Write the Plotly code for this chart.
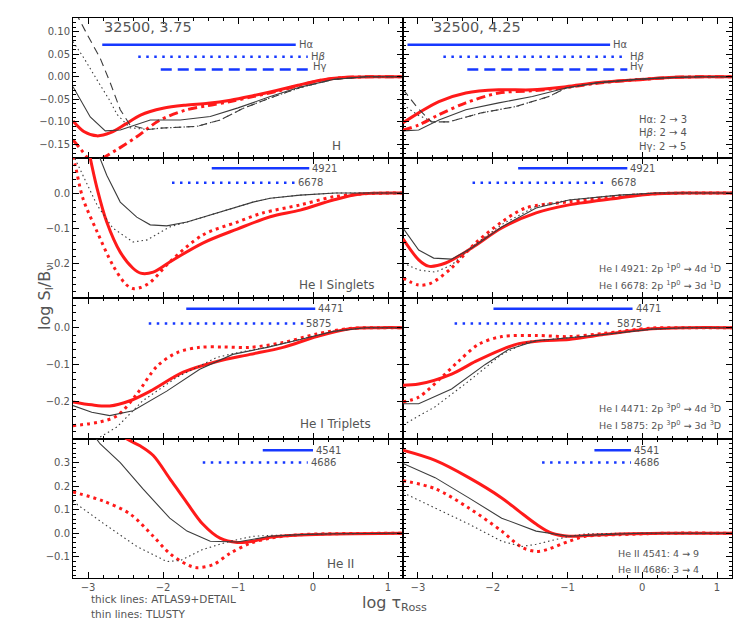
import plotly.graph_objects as go
from plotly.subplots import make_subplots

# ---------------- DATA ----------------
# Row 1: H, log g = 3.75 (left) and 4.25 (right)
H375_HA_ATLAS_X = [-3.2, -3.05, -2.88, -2.7, -2.5, -2.3, -2.0, -1.7, -1.4, -1.1, -0.8, -0.5, -0.2, 0.1, 0.4, 0.8, 1.2]
H375_HA_ATLAS_Y = [-0.098, -0.122, -0.131, -0.124, -0.105, -0.085, -0.070, -0.063, -0.059, -0.052, -0.042, -0.031, -0.019, -0.008, -0.002, 0.0, 0.0]
H375_HBG_ATLAS_X = [-3.2, -3.1, -3.0, -2.9, -2.8, -2.6, -2.35, -2.05, -1.7, -1.4, -1.1, -0.8, -0.5, -0.2, 0.1, 0.4, 0.8, 1.2]
H375_HBG_ATLAS_Y = [-0.14, -0.16, -0.18, -0.19, -0.18, -0.16, -0.133, -0.097, -0.074, -0.064, -0.055, -0.044, -0.033, -0.02, -0.008, -0.002, 0.0, 0.0]
H375_HA_TL_X = [-3.2, -2.97, -2.77, -2.57, -2.17, -1.77, -1.37, -1.0, -0.57, -0.17, 0.27, 0.7, 1.2]
H375_HA_TL_Y = [-0.022, -0.089, -0.12, -0.118, -0.096, -0.096, -0.088, -0.069, -0.044, -0.023, -0.006, 0.0, 0.0]
H375_HB_TL_X = [-3.2, -3.05, -2.88, -2.72, -2.61, -2.44, -2.2, -2.04, -1.55, -1.24, -0.93, -0.57, -0.17, 0.27, 0.7, 1.2]
H375_HB_TL_Y = [0.078, 0.04, -0.007, -0.05, -0.084, -0.113, -0.117, -0.114, -0.11, -0.096, -0.07, -0.047, -0.024, -0.006, 0.0, 0.0]
H375_HG_TL_X = [-3.2, -3.13, -3.0, -2.84, -2.7, -2.57, -2.44, -2.2, -2.04, -1.55, -1.24, -0.93, -0.57, -0.17, 0.27, 0.7, 1.2]
H375_HG_TL_Y = [0.17, 0.131, 0.09, 0.042, -0.015, -0.073, -0.107, -0.117, -0.114, -0.11, -0.096, -0.07, -0.047, -0.024, -0.006, 0.0, 0.0]

H425_HA_ATLAS_X = [-3.2, -2.99, -2.72, -2.36, -1.92, -1.47, -1.02, -0.58, -0.08, 0.36, 0.8, 1.2]
H425_HA_ATLAS_Y = [-0.102, -0.08, -0.055, -0.036, -0.029, -0.029, -0.022, -0.013, -0.007, -0.002, 0.0, 0.0]
H425_HBG_ATLAS_X = [-3.2, -2.99, -2.72, -2.36, -1.92, -1.47, -1.02, -0.58, -0.08, 0.36, 0.8, 1.2]
H425_HBG_ATLAS_Y = [-0.118, -0.107, -0.084, -0.058, -0.036, -0.031, -0.024, -0.014, -0.007, -0.002, 0.0, 0.0]
H425_HA_TL_X = [-3.2, -2.99, -2.72, -2.36, -1.92, -1.47, -1.02, -0.58, -0.08, 0.36, 0.8, 1.2]
H425_HA_TL_Y = [-0.12, -0.118, -0.096, -0.073, -0.058, -0.044, -0.025, -0.013, -0.006, -0.002, 0.0, 0.0]
H425_HB_TL_X = [-3.2, -3.0, -2.8, -2.59, -2.15, -1.69, -1.25, -1.02, -0.58, -0.08, 0.36, 0.8, 1.2]
H425_HB_TL_Y = [-0.062, -0.085, -0.1, -0.1, -0.08, -0.066, -0.044, -0.025, -0.013, -0.006, -0.002, 0.0, 0.0]
H425_HG_TL_X = [-3.2, -3.0, -2.82, -2.59, -2.15, -1.69, -1.25, -1.02, -0.58, -0.08, 0.36, 0.8, 1.2]
H425_HG_TL_Y = [-0.028, -0.07, -0.1, -0.1, -0.08, -0.066, -0.044, -0.025, -0.013, -0.006, -0.002, 0.0, 0.0]

# Row 2: He I singlets
S375_4921_ATLAS_X = [-3.0, -2.88, -2.75, -2.57, -2.4, -2.3, -2.13, -1.91, -1.47, -1.01, -0.57, -0.17, 0.27, 0.63, 1.2]
S375_4921_ATLAS_Y = [0.13, 0.014, -0.083, -0.169, -0.215, -0.229, -0.226, -0.197, -0.143, -0.103, -0.068, -0.049, -0.02, -0.003, 0.0]
S375_6678_ATLAS_X = [-3.2, -3.17, -3.07, -2.88, -2.67, -2.5, -2.4, -2.3, -2.17, -1.91, -1.47, -1.01, -0.67, -0.17, 0.27, 0.7, 1.2]
S375_6678_ATLAS_Y = [0.105, 0.08, -0.014, -0.11, -0.206, -0.26, -0.273, -0.27, -0.255, -0.197, -0.12, -0.083, -0.057, -0.034, -0.011, -0.002, 0.0]
S375_4921_TL_X = [-2.86, -2.75, -2.57, -2.35, -2.17, -1.95, -1.68, -1.24, -0.8, -0.57, -0.17, 0.3, 1.2]
S375_4921_TL_Y = [0.11, 0.051, -0.026, -0.069, -0.091, -0.094, -0.083, -0.054, -0.026, -0.015, -0.006, 0.0, 0.0]
S375_6678_TL_X = [-3.2, -3.07, -2.88, -2.67, -2.4, -2.21, -1.91, -1.68, -1.24, -0.8, -0.57, -0.17, 0.3, 1.2]
S375_6678_TL_Y = [0.11, 0.051, -0.034, -0.1, -0.14, -0.134, -0.097, -0.083, -0.054, -0.026, -0.015, -0.006, 0.0, 0.0]

S425_4921_ATLAS_X = [-3.2, -2.99, -2.86, -2.63, -2.28, -1.88, -1.42, -0.98, -0.31, 0.13, 0.6, 1.2]
S425_4921_ATLAS_Y = [-0.131, -0.191, -0.209, -0.2, -0.157, -0.1, -0.057, -0.034, -0.014, -0.003, 0.0, 0.0]
S425_6678_ATLAS_X = [-3.2, -2.99, -2.83, -2.55, -2.23, -1.88, -1.56, -0.98, -0.31, 0.2, 0.6, 1.2]
S425_6678_ATLAS_Y = [-0.243, -0.263, -0.258, -0.214, -0.143, -0.083, -0.043, -0.025, -0.009, -0.002, 0.0, 0.0]
S425_4921_TL_X = [-3.2, -2.99, -2.79, -2.55, -2.28, -1.88, -1.42, -0.98, -0.31, 0.2, 1.2]
S425_4921_TL_Y = [-0.1, -0.163, -0.186, -0.189, -0.157, -0.097, -0.043, -0.02, -0.006, 0.0, 0.0]
S425_6678_TL_X = [-3.2, -2.99, -2.77, -2.55, -2.28, -1.88, -1.42, -0.98, -0.31, 0.2, 1.2]
S425_6678_TL_Y = [-0.2, -0.22, -0.226, -0.206, -0.154, -0.09, -0.038, -0.02, -0.006, 0.0, 0.0]

# Row 3: He I triplets
T375_4471_ATLAS_X = [-3.2, -2.95, -2.71, -2.44, -2.17, -1.73, -1.28, -0.84, -0.4, 0.05, 0.49, 0.9, 1.2]
T375_4471_ATLAS_Y = [-0.2, -0.208, -0.211, -0.197, -0.171, -0.12, -0.091, -0.072, -0.053, -0.024, -0.003, 0.0, 0.0]
T375_5875_ATLAS_X = [-3.2, -2.84, -2.61, -2.35, -2.08, -1.81, -1.51, -1.2, -0.84, -0.4, 0.05, 0.49, 0.9, 1.2]
T375_5875_ATLAS_Y = [-0.264, -0.254, -0.237, -0.179, -0.104, -0.067, -0.053, -0.052, -0.053, -0.04, -0.017, -0.002, 0.0, 0.0]
T375_4471_TL_X = [-3.2, -2.95, -2.71, -2.4, -1.95, -1.51, -1.07, -0.61, -0.17, 0.27, 0.7, 1.2]
T375_4471_TL_Y = [-0.21, -0.228, -0.237, -0.224, -0.171, -0.112, -0.072, -0.053, -0.032, -0.01, 0.0, 0.0]
T375_5875_TL_X = [-3.0, -2.88, -2.61, -2.27, -1.81, -1.28, -1.07, -0.61, -0.17, 0.27, 0.7, 1.2]
T375_5875_TL_Y = [-0.33, -0.3, -0.267, -0.197, -0.133, -0.08, -0.07, -0.052, -0.031, -0.01, 0.0, 0.0]

T425_4471_ATLAS_X = [-3.2, -2.99, -2.55, -2.23, -1.88, -1.65, -1.34, -0.98, -0.54, 0.13, 0.6, 1.2]
T425_4471_ATLAS_Y = [-0.155, -0.152, -0.125, -0.091, -0.059, -0.043, -0.035, -0.032, -0.019, -0.003, 0.0, 0.0]
T425_5875_ATLAS_X = [-3.2, -2.99, -2.68, -2.46, -2.19, -1.88, -1.42, -0.98, -0.54, 0.13, 0.6, 1.2]
T425_5875_ATLAS_Y = [-0.2, -0.187, -0.133, -0.091, -0.045, -0.024, -0.021, -0.024, -0.016, -0.001, 0.0, 0.0]
T425_4471_TL_X = [-3.2, -2.99, -2.55, -2.1, -1.79, -1.42, -0.98, -0.54, 0.13, 0.6, 1.2]
T425_4471_TL_Y = [-0.205, -0.205, -0.165, -0.099, -0.059, -0.035, -0.027, -0.019, -0.004, 0.0, 0.0]
T425_5875_TL_X = [-3.2, -2.77, -2.32, -1.88, -1.52, -1.2, -0.98, -0.54, 0.13, 0.6, 1.2]
T425_5875_TL_Y = [-0.262, -0.213, -0.144, -0.072, -0.037, -0.03, -0.027, -0.019, -0.004, 0.0, 0.0]

# Row 4: He II
II375_4541_ATLAS_X = [-2.6, -2.48, -2.3, -2.13, -1.91, -1.68, -1.47, -1.24, -1.01, -0.8, -0.57, -0.17, 0.3, 1.2]
II375_4541_ATLAS_Y = [0.43, 0.40, 0.37, 0.33, 0.232, 0.129, 0.039, -0.021, -0.039, -0.034, -0.017, -0.008, -0.003, 0.0]
II375_4541_TL_X = [-3.0, -2.84, -2.57, -2.27, -1.91, -1.68, -1.37, -1.01, -0.57, -0.17, 0.3, 1.2]
II375_4541_TL_Y = [0.45, 0.38, 0.3, 0.189, 0.064, 0.009, -0.034, -0.037, -0.013, -0.006, -0.002, 0.0]
II375_4686_ATLAS_X = [-3.2, -2.8, -2.44, -2.13, -1.91, -1.68, -1.55, -1.33, -1.11, -0.84, -0.57, -0.17, 0.3, 1.2]
II375_4686_ATLAS_Y = [0.175, 0.137, 0.082, -0.013, -0.086, -0.133, -0.146, -0.133, -0.086, -0.043, -0.021, -0.006, -0.002, 0.0]
II375_4686_TL_X = [-3.2, -2.8, -2.35, -1.95, -1.77, -1.47, -1.11, -0.8, -0.57, -0.17, 0.3, 1.2]
II375_4686_TL_Y = [0.135, 0.043, -0.056, -0.12, -0.116, -0.069, -0.034, -0.013, -0.009, -0.005, -0.002, 0.0]

II425_4541_ATLAS_X = [-3.2, -2.77, -2.32, -1.88, -1.65, -1.42, -1.21, -0.98, -0.76, -0.31, 0.3, 1.2]
II425_4541_ATLAS_Y = [0.352, 0.309, 0.236, 0.15, 0.094, 0.039, 0.0, -0.013, -0.01, -0.003, 0.0, 0.0]
II425_4541_TL_X = [-3.2, -2.77, -2.32, -1.88, -1.42, -0.98, -0.54, 0.0, 1.2]
II425_4541_TL_Y = [0.296, 0.236, 0.15, 0.064, 0.009, -0.013, -0.006, 0.0, 0.0]
II425_4686_ATLAS_X = [-3.2, -2.77, -2.32, -1.88, -1.61, -1.42, -1.27, -0.98, -0.76, -0.31, 0.3, 1.2]
II425_4686_ATLAS_Y = [0.223, 0.189, 0.107, 0.009, -0.06, -0.077, -0.069, -0.034, -0.013, -0.006, 0.0, 0.0]
II425_4686_TL_X = [-3.2, -2.77, -2.32, -1.88, -1.61, -1.42, -0.98, -0.76, -0.3, 1.2]
II425_4686_TL_Y = [0.172, 0.107, 0.039, -0.034, -0.056, -0.047, -0.013, -0.003, 0.0, 0.0]

# Line-formation bars: [x_start, x_end, y_level]
BAR_375_HA = [-2.81, -0.23, 0.071]
BAR_375_HB = [-2.33, -0.07, 0.044]
BAR_375_HG = [-2.03, -0.04, 0.016]
BAR_425_HA = [-3.14, -0.43, 0.071]
BAR_425_HB = [-2.66, -0.21, 0.044]
BAR_425_HG = [-2.34, -0.20, 0.016]
BAR_375_4921 = [-1.35, -0.05, 0.071]
BAR_375_6678 = [-1.88, -0.24, 0.029]
BAR_425_4921 = [-1.66, -0.20, 0.071]
BAR_425_6678 = [-2.27, -0.46, 0.029]
BAR_375_4471 = [-1.69, 0.03, 0.051]
BAR_375_5875 = [-2.19, -0.13, 0.011]
BAR_425_4471 = [-1.99, -0.13, 0.051]
BAR_425_5875 = [-2.51, -0.38, 0.011]
BAR_375_4541 = [-0.67, 0.0, 0.352]
BAR_375_4686 = [-1.47, -0.07, 0.30]
BAR_425_4541 = [-0.64, -0.15, 0.352]
BAR_425_4686 = [-1.34, -0.15, 0.30]

X_RANGE = [-3.2, 1.2]
X_TICKS = [-3, -2, -1, 0, 1]
Y_RANGES = [[-0.18, 0.13], [-0.30, 0.10], [-0.30, 0.08], [-0.19, 0.40]]
Y_TICKS = [[-0.15, -0.10, -0.05, 0.0, 0.05, 0.10],
           [-0.2, -0.1, 0.0],
           [-0.2, -0.1, 0.0],
           [-0.1, 0.0, 0.1, 0.2, 0.3]]
Y_MINOR = [0.01, 0.02, 0.02, 0.02]
Y_FORMATS = [".2f", ".1f", ".1f", ".1f"]

# ---------------- FIGURE ----------------
W, H = 747, 623
RED = "#ff1a1a"
GREY = "#3c3c3c"
BLUE = "#1638ff"
TXT = "#555555"
FONT = "DejaVu Sans"

fig = make_subplots(rows=4, cols=2, horizontal_spacing=0, vertical_spacing=0)


def thick(x, y, dash, r, c):
    fig.add_trace(go.Scatter(x=x, y=y, mode="lines", showlegend=False, hoverinfo="skip",
                             line=dict(color=RED, width=3, dash=dash, shape="spline", smoothing=0.9)),
                  row=r, col=c)


def thin(x, y, dash, r, c):
    fig.add_trace(go.Scatter(x=x, y=y, mode="lines", showlegend=False, hoverinfo="skip",
                             line=dict(color=GREY, width=1.1, dash=dash)),
                  row=r, col=c)


def bar(b, dash, r, c, label, dy=0):
    fig.add_trace(go.Scatter(x=[b[0], b[1]], y=[b[2], b[2]], mode="lines", showlegend=False,
                             hoverinfo="skip", line=dict(color=BLUE, width=2.5, dash=dash)),
                  row=r, col=c)
    idx = (r - 1) * 2 + c
    fig.add_annotation(x=b[1], y=b[2], xref=f"x{idx}", yref=f"y{idx}", text=label,
                       showarrow=False, xanchor="left", yanchor="middle", xshift=1, yshift=dy,
                       font=dict(family=FONT, size=10, color=TXT))


RDOT = "3px,4px"
RDD = "9px,4px,3px,4px"
TDOT = "1.5px,3px"
TDASH = "8px,5px"
BDOT = "2.5px,5.5px"
BDASH = "11px,6px"

# Row 1
thick(H375_HA_ATLAS_X, H375_HA_ATLAS_Y, "solid", 1, 1)
thick(H375_HBG_ATLAS_X, H375_HBG_ATLAS_Y, RDD, 1, 1)
thin(H375_HA_TL_X, H375_HA_TL_Y, "solid", 1, 1)
thin(H375_HB_TL_X, H375_HB_TL_Y, TDOT, 1, 1)
thin(H375_HG_TL_X, H375_HG_TL_Y, TDASH, 1, 1)
thick(H425_HA_ATLAS_X, H425_HA_ATLAS_Y, "solid", 1, 2)
thick(H425_HBG_ATLAS_X, H425_HBG_ATLAS_Y, RDD, 1, 2)
thin(H425_HA_TL_X, H425_HA_TL_Y, "solid", 1, 2)
thin(H425_HB_TL_X, H425_HB_TL_Y, TDOT, 1, 2)
thin(H425_HG_TL_X, H425_HG_TL_Y, TDASH, 1, 2)
bar(BAR_375_HA, "solid", 1, 1, "Hα")
bar(BAR_375_HB, BDOT, 1, 1, "H<i>β</i>")
bar(BAR_375_HG, BDASH, 1, 1, "Hγ", dy=3)
bar(BAR_425_HA, "solid", 1, 2, "Hα")
bar(BAR_425_HB, BDOT, 1, 2, "H<i>β</i>")
bar(BAR_425_HG, BDASH, 1, 2, "Hγ", dy=3)

# Row 2
thick(S375_4921_ATLAS_X, S375_4921_ATLAS_Y, "solid", 2, 1)
thick(S375_6678_ATLAS_X, S375_6678_ATLAS_Y, RDOT, 2, 1)
thin(S375_4921_TL_X, S375_4921_TL_Y, "solid", 2, 1)
thin(S375_6678_TL_X, S375_6678_TL_Y, TDOT, 2, 1)
thick(S425_4921_ATLAS_X, S425_4921_ATLAS_Y, "solid", 2, 2)
thick(S425_6678_ATLAS_X, S425_6678_ATLAS_Y, RDOT, 2, 2)
thin(S425_4921_TL_X, S425_4921_TL_Y, "solid", 2, 2)
thin(S425_6678_TL_X, S425_6678_TL_Y, TDOT, 2, 2)
bar(BAR_375_4921, "solid", 2, 1, "4921")
bar(BAR_375_6678, BDOT, 2, 1, "6678")
bar(BAR_425_4921, "solid", 2, 2, "4921")
bar(BAR_425_6678, BDOT, 2, 2, "6678")

# Row 3
thick(T375_4471_ATLAS_X, T375_4471_ATLAS_Y, "solid", 3, 1)
thick(T375_5875_ATLAS_X, T375_5875_ATLAS_Y, RDOT, 3, 1)
thin(T375_4471_TL_X, T375_4471_TL_Y, "solid", 3, 1)
thin(T375_5875_TL_X, T375_5875_TL_Y, TDOT, 3, 1)
thick(T425_4471_ATLAS_X, T425_4471_ATLAS_Y, "solid", 3, 2)
thick(T425_5875_ATLAS_X, T425_5875_ATLAS_Y, RDOT, 3, 2)
thin(T425_4471_TL_X, T425_4471_TL_Y, "solid", 3, 2)
thin(T425_5875_TL_X, T425_5875_TL_Y, TDOT, 3, 2)
bar(BAR_375_4471, "solid", 3, 1, "4471")
bar(BAR_375_5875, BDOT, 3, 1, "5875")
bar(BAR_425_4471, "solid", 3, 2, "4471")
bar(BAR_425_5875, BDOT, 3, 2, "5875")

# Row 4
thick(II375_4541_ATLAS_X, II375_4541_ATLAS_Y, "solid", 4, 1)
thick(II375_4686_ATLAS_X, II375_4686_ATLAS_Y, RDOT, 4, 1)
thin(II375_4541_TL_X, II375_4541_TL_Y, "solid", 4, 1)
thin(II375_4686_TL_X, II375_4686_TL_Y, TDOT, 4, 1)
thick(II425_4541_ATLAS_X, II425_4541_ATLAS_Y, "solid", 4, 2)
thick(II425_4686_ATLAS_X, II425_4686_ATLAS_Y, RDOT, 4, 2)
thin(II425_4541_TL_X, II425_4541_TL_Y, "solid", 4, 2)
thin(II425_4686_TL_X, II425_4686_TL_Y, TDOT, 4, 2)
bar(BAR_375_4541, "solid", 4, 1, "4541")
bar(BAR_375_4686, BDOT, 4, 1, "4686")
bar(BAR_425_4541, "solid", 4, 2, "4541")
bar(BAR_425_4686, BDOT, 4, 2, "4686")

# ---------------- AXES ----------------
col_dom = [[73 / W, 403 / W], [403 / W, 732 / W]]
row_px = [18, 158, 298, 439, 578]
for r in range(4):
    ydom = [1 - row_px[r + 1] / H, 1 - row_px[r] / H]
    for c in range(2):
        idx = r * 2 + c + 1
        sfx = "" if idx == 1 else str(idx)
        fig.layout["xaxis" + sfx].update(
            domain=col_dom[c], range=X_RANGE, tickvals=X_TICKS, showticklabels=(r == 3),
            ticks="inside", ticklen=6, tickcolor="black", mirror="allticks",
            showline=True, linecolor="black", linewidth=1, showgrid=False, zeroline=False,
            minor=dict(dtick=0.2, tick0=0, ticks="inside", ticklen=3, tickcolor="black", showgrid=False),
            tickfont=dict(family=FONT, size=10, color=TXT), automargin=False)
        fig.layout["yaxis" + sfx].update(
            domain=ydom, range=Y_RANGES[r], tickvals=Y_TICKS[r], tickformat=Y_FORMATS[r],
            showticklabels=(c == 0), ticks="inside", ticklen=6, tickcolor="black",
            mirror="allticks", showline=True, linecolor="black", linewidth=1, showgrid=False,
            zeroline=False,
            minor=dict(dtick=Y_MINOR[r], tick0=0, ticks="inside", ticklen=3, tickcolor="black",
                       showgrid=False),
            tickfont=dict(family=FONT, size=10, color=TXT), automargin=False)


def ptext(px, py, text, size=11, anchor="left"):
    fig.add_annotation(x=px / W, y=1 - py / H, xref="paper", yref="paper", text=text,
                       showarrow=False, xanchor=anchor, yanchor="middle",
                       font=dict(family=FONT, size=size, color=TXT))


ptext(102, 27, "32500, 3.75", size=14.5)
ptext(431, 27, "32500, 4.25", size=14.5)
ptext(336, 146, "H", size=12, anchor="center")
ptext(336, 285, "He I Singlets", size=12, anchor="center")
ptext(335, 424, "He I Triplets", size=12, anchor="center")
ptext(340, 564, "He II", size=12, anchor="center")

ptext(637, 119, "Hα: 2 → 3", size=10)
ptext(637, 133, "H<i>β</i>: 2 → 4", size=10)
ptext(637, 146, "Hγ: 2 → 5", size=10)
ptext(597, 268, "He I 4921: 2p <sup>1</sup>P<sup>0</sup> → 4d <sup>1</sup>D", size=9.5)
ptext(597, 285, "He I 6678: 2p <sup>1</sup>P<sup>0</sup> → 3d <sup>1</sup>D", size=9.5)
ptext(597, 408, "He I 4471: 2p <sup>3</sup>P<sup>0</sup> → 4d <sup>3</sup>D", size=9.5)
ptext(597, 425, "He I 5875: 2p <sup>3</sup>P<sup>0</sup> → 3d <sup>3</sup>D", size=9.5)
ptext(616, 553, "He II 4541: 4 → 9", size=9.5)
ptext(616, 569, "He II 4686: 3 → 4", size=9.5)

ptext(89, 599, "thick lines: ATLAS9+DETAIL", size=10.5)
ptext(89, 614, "thin lines: TLUSTY", size=10.5)
ptext(394, 603, "log τ<sub>Ross</sub>", size=16, anchor="center")

fig.add_annotation(x=45 / W, y=1 - 298 / H, xref="paper", yref="paper",
                   text="log S<sub>l</sub>/B<sub>ν</sub>", showarrow=False, textangle=-90,
                   xanchor="center", yanchor="middle", font=dict(family=FONT, size=16, color=TXT))

fig.update_layout(width=W, height=H, margin=dict(l=0, r=0, t=0, b=0, autoexpand=False),
                  paper_bgcolor="white", plot_bgcolor="white", showlegend=False)

fig.write_html("out.html", config={"displayModeBar": False},
               post_script="document.body.style.margin='0px';")
